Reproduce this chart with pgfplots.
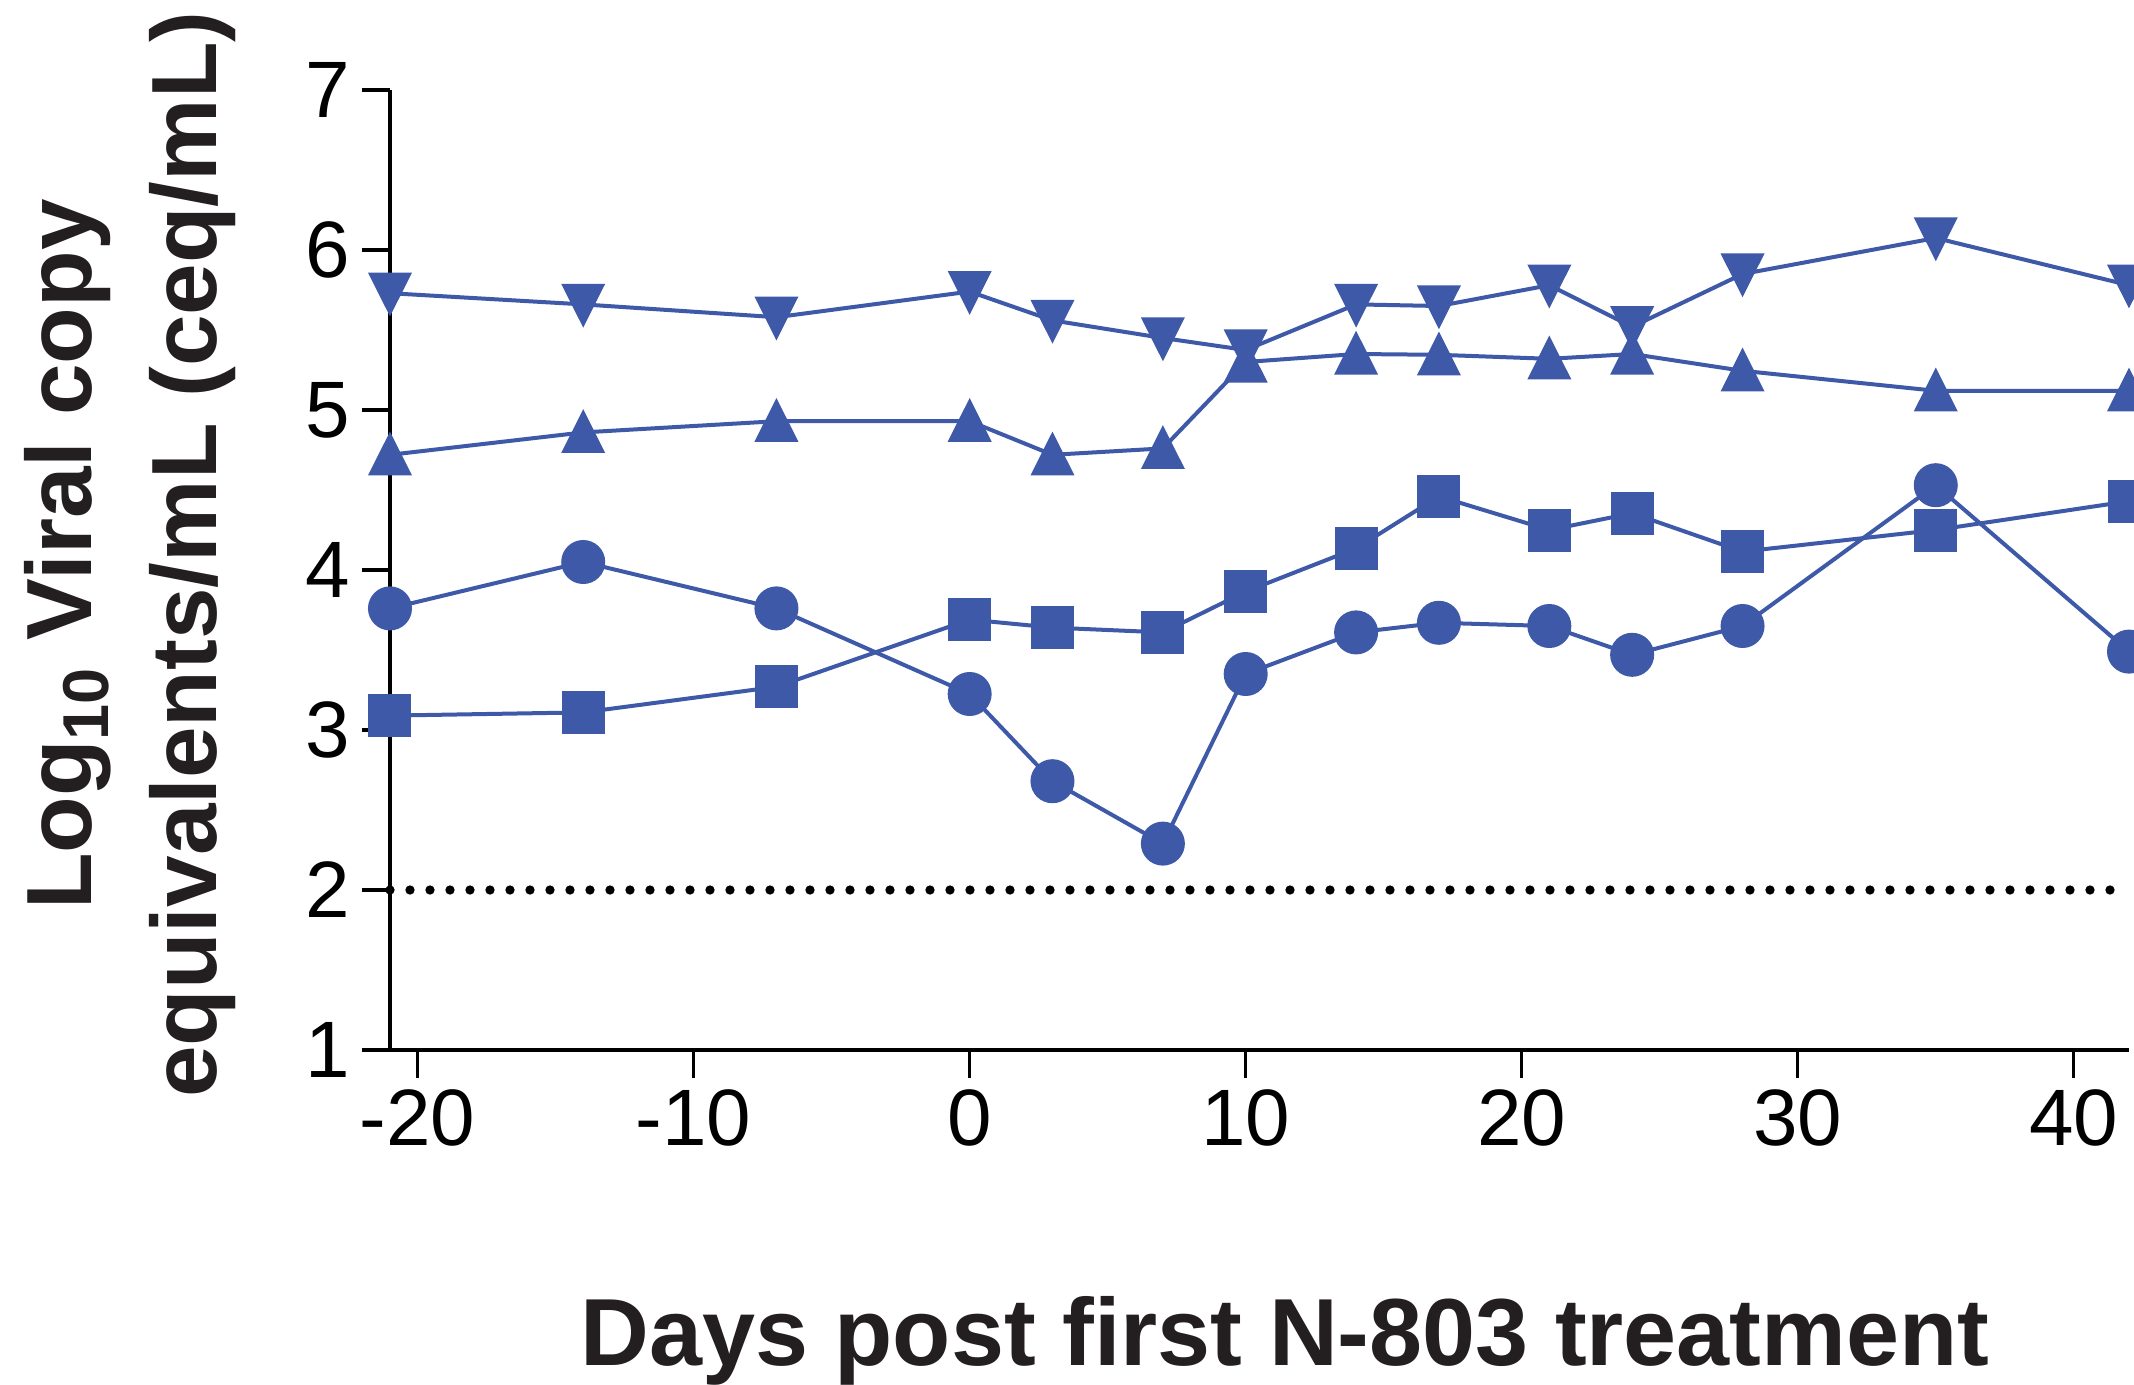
\documentclass[border=0pt]{standalone}
\usepackage{fontspec}
\setmainfont{Liberation Sans}
\usepackage{pgfplots}
\pgfplotsset{compat=1.18}
\definecolor{ptblue}{RGB}{62,89,168}
\definecolor{labgray}{RGB}{35,31,32}

\begin{document}
\begin{tikzpicture}
\begin{axis}[
    name=plot,
    scale only axis,
    width=521.7pt, height=288pt,
    xmin=-21, xmax=42, ymin=1, ymax=7,
    axis x line*=bottom, axis y line*=left,
    axis on top, clip=false,
    axis line style={line width=1pt, black},
    tick style={line width=1pt, black},
    tick align=outside, major tick length=8.4pt,
    xtick={-20,-10,0,10,20,30,40},
    xticklabels={-20,-10,0,10,20,30,40},
    ytick={1,2,3,4,5,6,7},
    yticklabels={1,2,3,4,5,6,7},
    ticklabel style={font=\fontsize{24}{24}\selectfont},
    xlabel={Days post first N-803 treatment},
    xlabel style={at={(axis description cs:0.5147,-0.329)}, anchor=base,
        inner sep=0pt, text=labgray, font=\fontsize{28.6}{34}\bfseries\selectfont},
    ylabel={Log\textsubscript{10} Viral copy\\equivalents/mL (ceq/mL)},
    ylabel style={at={(axis description cs:-0.2105,0.516)}, anchor=north, rotate=0,
        inner sep=0pt, align=center, text=labgray,
        font=\fontsize{27.8}{37.5}\bfseries\selectfont},
    every axis plot/.append style={ptblue, line width=1.2pt},
]
\addplot[black, line width=2.8pt, line cap=round, dash pattern=on 0pt off 6pt]
    coordinates {(-21,2) (42,2)};
% circles
\addplot[mark=*, mark size=6pt, mark options={solid, fill=ptblue}] coordinates {
    (-21,3.76) (-14,4.05) (-7,3.76) (0,3.225) (3,2.68) (7,2.29) (10,3.35)
    (14,3.61) (17,3.67) (21,3.65) (24,3.47) (28,3.65) (35,4.53) (42,3.49)};
% squares
\addplot[mark=square*, mark size=5.85pt, mark options={solid, fill=ptblue}] coordinates {
    (-21,3.09) (-14,3.11) (-7,3.27) (0,3.69) (3,3.64) (7,3.61) (10,3.865)
    (14,4.135) (17,4.46) (21,4.25) (24,4.355) (28,4.115) (35,4.25) (42,4.43)};
% triangles up
\addplot[mark=triangle*, mark size=6.5pt,
    mark options={solid, fill=ptblue, yscale=1.15, yshift=-1.6pt}] coordinates {
    (-21,4.72) (-14,4.86) (-7,4.93) (0,4.93) (3,4.72) (7,4.76) (10,5.30)
    (14,5.35) (17,5.345) (21,5.32) (24,5.35) (28,5.245) (35,5.12) (42,5.12)};
% triangles down
\addplot[mark=triangle*, mark size=6.5pt,
    mark options={solid, fill=ptblue, rotate=180, yscale=1.15, yshift=-1.6pt}] coordinates {
    (-21,5.73) (-14,5.66) (-7,5.58) (0,5.74) (3,5.56) (7,5.45) (10,5.375)
    (14,5.66) (17,5.65) (21,5.78) (24,5.52) (28,5.85) (35,6.075) (42,5.78)};
\end{axis}
\pgfresetboundingbox
\path ([xshift=-117pt,yshift=-100.2pt]plot.south west)
    rectangle ([xshift=1.5pt,yshift=27pt]plot.north east);
\end{tikzpicture}
\end{document}
